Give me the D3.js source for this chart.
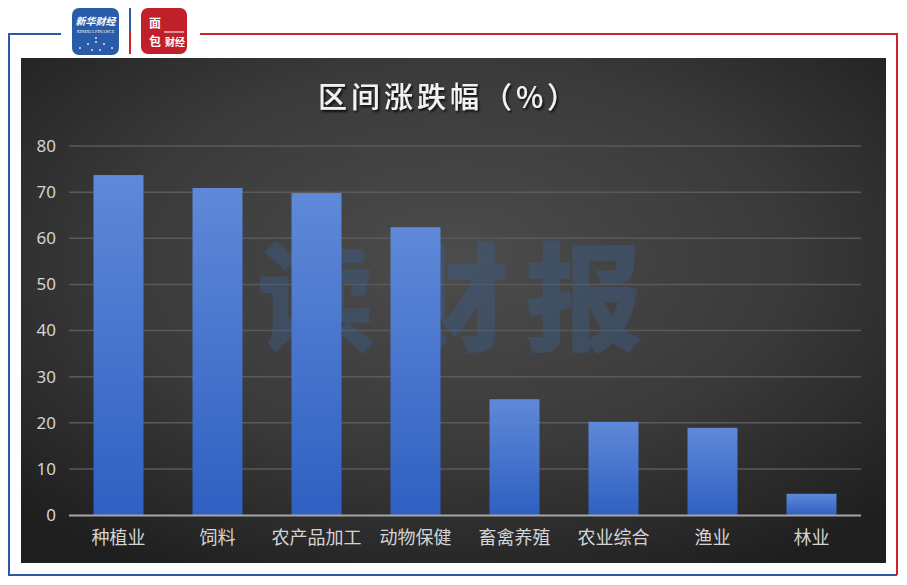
<!DOCTYPE html>
<html><head><meta charset="utf-8">
<script src="https://cdn.jsdelivr.net/npm/d3@7"></script>
<style>body{margin:0;background:#fff;}svg{display:block;font-family:"Noto Sans CJK SC","Noto Sans",sans-serif;}</style>
</head><body>
<svg id="c" width="907" height="585"></svg>
<script>
const categories = ["种植业","饲料","农产品加工","动物保健","畜禽养殖","农业综合","渔业","林业"];
const values = [73.7, 70.9, 69.8, 62.4, 25.1, 20.2, 18.9, 4.6];
const yTicks = [0,10,20,30,40,50,60,70,80];
const title = "区间涨跌幅（%）";

const svg = d3.select("#c");
const defs = svg.append("defs");
const rg = defs.append("radialGradient").attr("id","bg").attr("cx","50%").attr("cy","40%").attr("r","70%");
rg.append("stop").attr("offset","0%").attr("stop-color","#4c4c4c");
rg.append("stop").attr("offset","55%").attr("stop-color","#3a3a3a");
rg.append("stop").attr("offset","100%").attr("stop-color","#1f1f1f");
const bg = defs.append("linearGradient").attr("id","bar").attr("x1",0).attr("y1",0).attr("x2",0).attr("y2",1);
bg.append("stop").attr("offset","0%").attr("stop-color","#5f89d8");
bg.append("stop").attr("offset","100%").attr("stop-color","#2f60c2");
const sh = defs.append("filter").attr("id","ts").attr("x","-10%").attr("y","-20%").attr("width","120%").attr("height","150%");
sh.append("feDropShadow").attr("dx",1.5).attr("dy",2).attr("stdDeviation",1.2).attr("flood-color","#000").attr("flood-opacity",0.8);

// frame
svg.append("line").attr("x1",8).attr("x2",61).attr("y1",34).attr("y2",34).attr("stroke","#2d5aa5").attr("stroke-width",2);
svg.append("line").attr("x1",9).attr("x2",9).attr("y1",34).attr("y2",576).attr("stroke","#2d5aa5").attr("stroke-width",2);
svg.append("line").attr("x1",9).attr("x2",897).attr("y1",575).attr("y2",575).attr("stroke","#2d5aa5").attr("stroke-width",2);
svg.append("line").attr("x1",200).attr("x2",898).attr("y1",34).attr("y2",34).attr("stroke","#d0212e").attr("stroke-width",2);
svg.append("line").attr("x1",897).attr("x2",897).attr("y1",34).attr("y2",575).attr("stroke","#d0212e").attr("stroke-width",2);

// logos
const lg1 = svg.append("g");
lg1.append("rect").attr("x",72).attr("y",8).attr("width",47).attr("height",47).attr("rx",7).attr("fill","#2a5ba8");
lg1.append("text").attr("x",95.5).attr("y",25).attr("text-anchor","middle").attr("fill","#fff").attr("font-size",10).attr("font-style","italic").attr("font-weight","bold").text("新华财经");
lg1.append("text").attr("x",95.5).attr("y",33).attr("text-anchor","middle").attr("fill","#fff").attr("font-size",4.5).attr("font-family","Liberation Serif").text("XINHUA FINANCE");
[[80,48],[88,44],[96,42],[104,44],[112,48],[92,50],[100,50],[96,38]].forEach(p=>lg1.append("circle").attr("cx",p[0]).attr("cy",p[1]).attr("r",1).attr("fill","#dfe9f7"));
svg.append("line").attr("x1",130).attr("x2",130).attr("y1",8).attr("y2",31).attr("stroke","#2d5aa5").attr("stroke-width",2);
svg.append("line").attr("x1",130).attr("x2",130).attr("y1",31).attr("y2",54).attr("stroke","#d0212e").attr("stroke-width",2);
const lg2 = svg.append("g");
lg2.append("rect").attr("x",141).attr("y",8).attr("width",46).attr("height",46).attr("rx",7).attr("fill","#c0202a");
lg2.append("text").attr("x",155).attr("y",28).attr("text-anchor","middle").attr("fill","#fff").attr("font-size",12).attr("font-weight","bold").text("面");
lg2.append("text").attr("x",155).attr("y",46).attr("text-anchor","middle").attr("fill","#fff").attr("font-size",12).attr("font-weight","bold").text("包");
lg2.append("text").attr("x",175).attr("y",46).attr("text-anchor","middle").attr("fill","#fff").attr("font-size",10).attr("font-weight","bold").text("财经");
lg2.append("line").attr("x1",164).attr("x2",184).attr("y1",32).attr("y2",32).attr("stroke","#fff").attr("stroke-width",1);

// panel
svg.append("rect").attr("x",21).attr("y",58).attr("width",865).attr("height",505).attr("fill","url(#bg)");

// scales
const x = d3.scaleBand().domain(categories).range([69,861]).paddingInner(0.495).paddingOuter(0.2475);
const y = d3.scaleLinear().domain([0,80]).range([515,146]);

// grid
svg.append("g").selectAll("line").data(yTicks.filter(d=>d>0)).join("line")
  .attr("x1",69).attr("x2",861).attr("y1",d=>y(d)).attr("y2",d=>y(d))
  .attr("stroke","#5a5a5a").attr("stroke-width",1.5);

// watermark
svg.append("text").attr("x",458).attr("y",342).attr("text-anchor","middle")
  .attr("font-size",118).attr("font-weight","900").attr("fill","#3c5f8f").attr("opacity",0.4)
  .attr("letter-spacing",16).text("读财报");

// y axis labels
const yAxis = d3.axisLeft(y).tickValues(yTicks).tickSize(0).tickPadding(0);
const ya = svg.append("g").attr("transform","translate(56,0)").call(yAxis);
ya.select(".domain").remove();
ya.selectAll("text").attr("fill","#d4d4d4").attr("font-size",17).attr("font-family","Noto Sans, sans-serif");

// bars
svg.append("g").selectAll("rect").data(values).join("rect")
  .attr("x",(d,i)=>x(categories[i])).attr("width",x.bandwidth())
  .attr("y",d=>y(d)).attr("height",d=>y(0)-y(d))
  .attr("fill","url(#bar)");

// x axis
const xAxis = d3.axisBottom(x).tickSize(0).tickPadding(16);
const xa = svg.append("g").attr("transform",`translate(0,${y(0)})`).call(xAxis);
xa.select(".domain").remove();
svg.append("line").attr("x1",69).attr("x2",861).attr("y1",y(0)+0.5).attr("y2",y(0)+0.5).attr("stroke","#a6a6a6").attr("stroke-width",2);
xa.selectAll("text").attr("fill","#d4d4d4").attr("font-size",18).attr("font-family","Noto Sans CJK SC, sans-serif");

// title
svg.append("text").attr("x",449).attr("y",108).attr("text-anchor","middle")
  .attr("font-size",29).attr("font-weight","500").attr("fill","#f2f2f2").attr("filter","url(#ts)")
  .attr("letter-spacing",4).text(title);
</script>
</body></html>
